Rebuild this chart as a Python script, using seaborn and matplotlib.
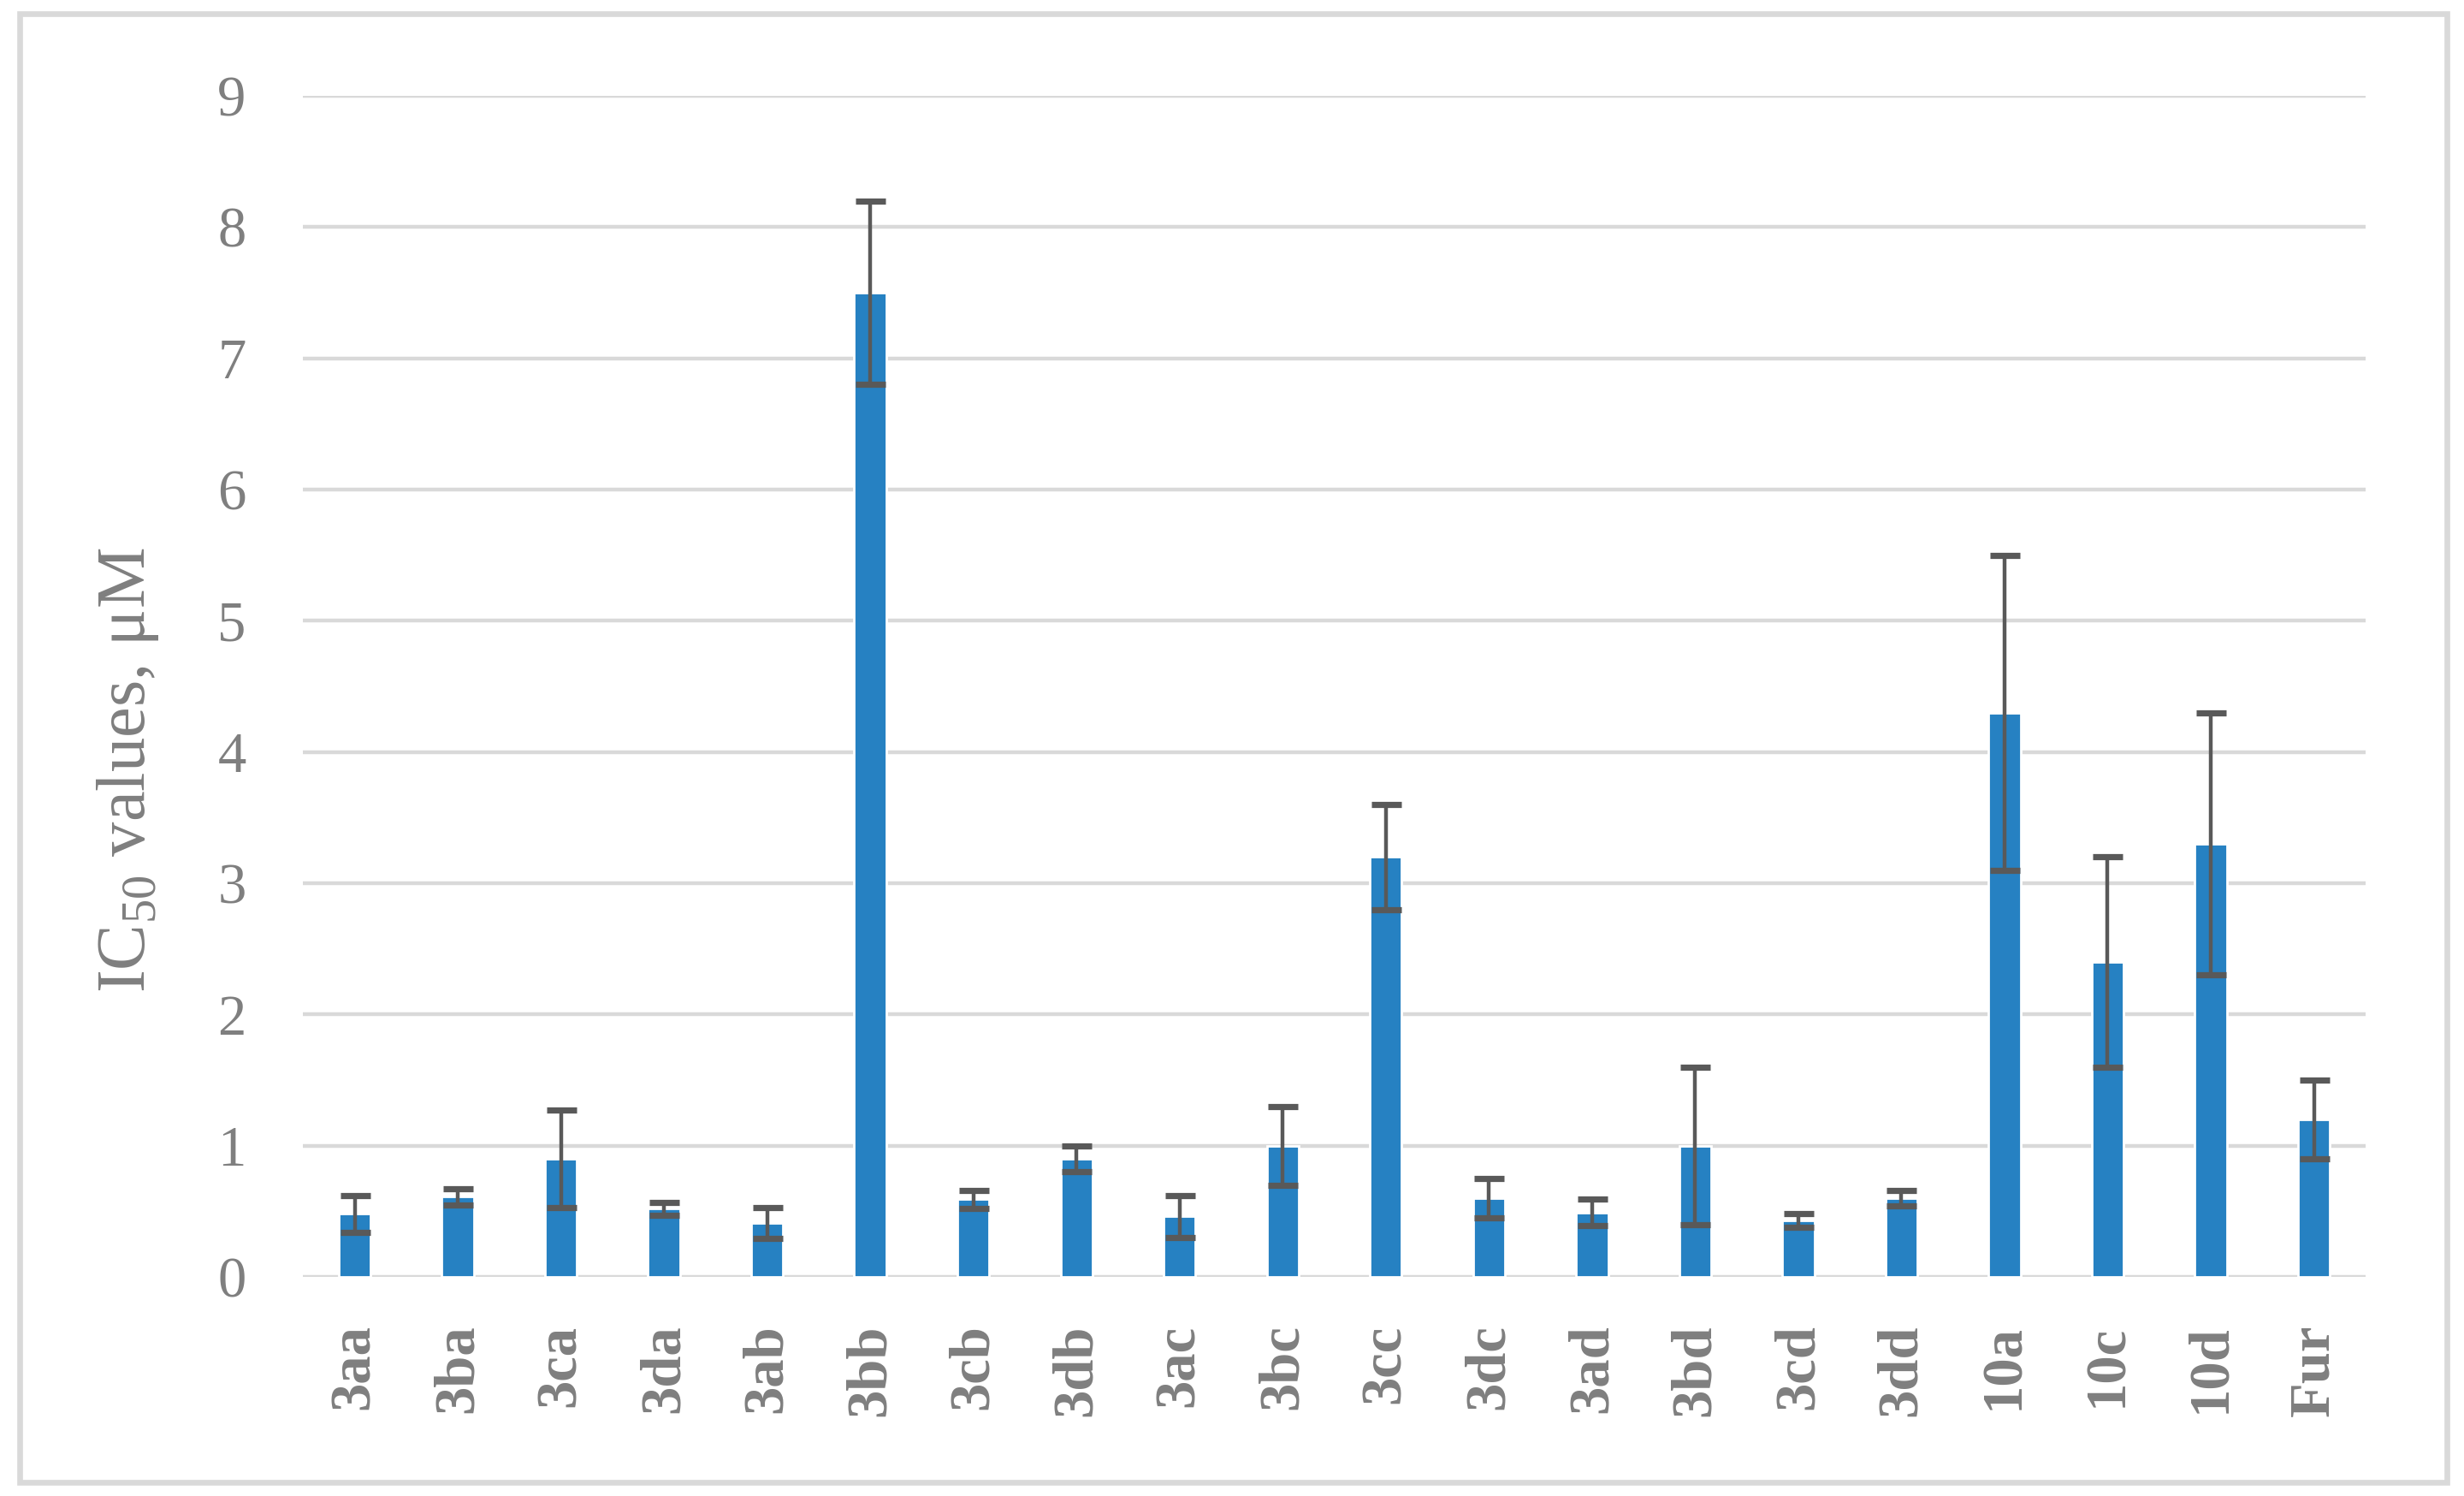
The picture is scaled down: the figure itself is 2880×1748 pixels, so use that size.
import numpy as np
import pandas as pd
import matplotlib
matplotlib.use("Agg")
import matplotlib.pyplot as plt
import seaborn as sns
from matplotlib.patches import Rectangle

# Data
compounds = ["3aa", "3ba", "3ca", "3da", "3ab", "3bb", "3cb", "3db", "3ac", "3bc",
             "3cc", "3dc", "3ad", "3bd", "3cd", "3dd", "10a", "10c", "10d", "Fur"]
ic50 = [0.48, 0.61, 0.90, 0.52, 0.41, 7.5, 0.59, 0.90, 0.46, 1.0,
        3.2, 0.60, 0.49, 1.0, 0.43, 0.60, 4.3, 2.4, 3.3, 1.2]
ic50_err = [0.14, 0.06, 0.37, 0.05, 0.12, 0.7, 0.07, 0.10, 0.16, 0.30,
            0.40, 0.15, 0.10, 0.60, 0.05, 0.06, 1.2, 0.8, 1.0, 0.30]
yticks = list(range(0, 10))

df = pd.DataFrame({"Compound": compounds, "IC50": ic50, "Err": ic50_err})

sns.set_theme(style="white")
plt.rcParams["font.family"] = ["Liberation Serif", "DejaVu Serif"]
plt.rcParams["mathtext.fontset"] = "custom"
plt.rcParams["mathtext.rm"] = "Liberation Serif"

TEXT = "#7F7F7F"
GRID = "#D9D9D9"
BAR = "#2681C2"
ERR = "#595959"

fig = plt.figure(figsize=(14.4, 8.74), dpi=200)
ax = fig.add_axes([0.123, 0.1465, 0.837, 0.7895])

sns.barplot(data=df, x="Compound", y="IC50", color=BAR, width=0.31,
            errorbar=None, saturation=1, ax=ax, zorder=3)
ax.errorbar(np.arange(len(df)), df["IC50"], yerr=df["Err"], fmt="none",
            ecolor=ERR, elinewidth=1.6, capsize=6.3, capthick=2.6, zorder=4)

ax.set_ylim(0, 9)
ax.set_xlim(-0.5, len(df) - 0.5)
ax.set_yticks(yticks)
ax.yaxis.grid(True, color=GRID, linewidth=1.6, zorder=0)
ax.set_axisbelow(True)
for s in ax.spines.values():
    s.set_visible(False)

ax.tick_params(axis="y", length=0, pad=24, labelsize=24, labelcolor=TEXT)
ax.tick_params(axis="x", length=0, pad=20, labelsize=24, labelcolor=TEXT)
for lab in ax.get_xticklabels():
    lab.set_rotation(90)
    lab.set_fontweight("bold")
    lab.set_va("top")
    lab.set_ha("center")

ax.set_xlabel("")
ax.set_ylabel("IC$_{50}$ values, μM", fontsize=29, color=TEXT, labelpad=0)
ax.yaxis.set_label_coords(-0.069, 0.429)

# light outer border
fig.patches.append(Rectangle((0.008, 0.009), 0.985, 0.982, transform=fig.transFigure,
                             fill=False, edgecolor=GRID, linewidth=2.4))

fig.savefig("out.png", dpi=200)
